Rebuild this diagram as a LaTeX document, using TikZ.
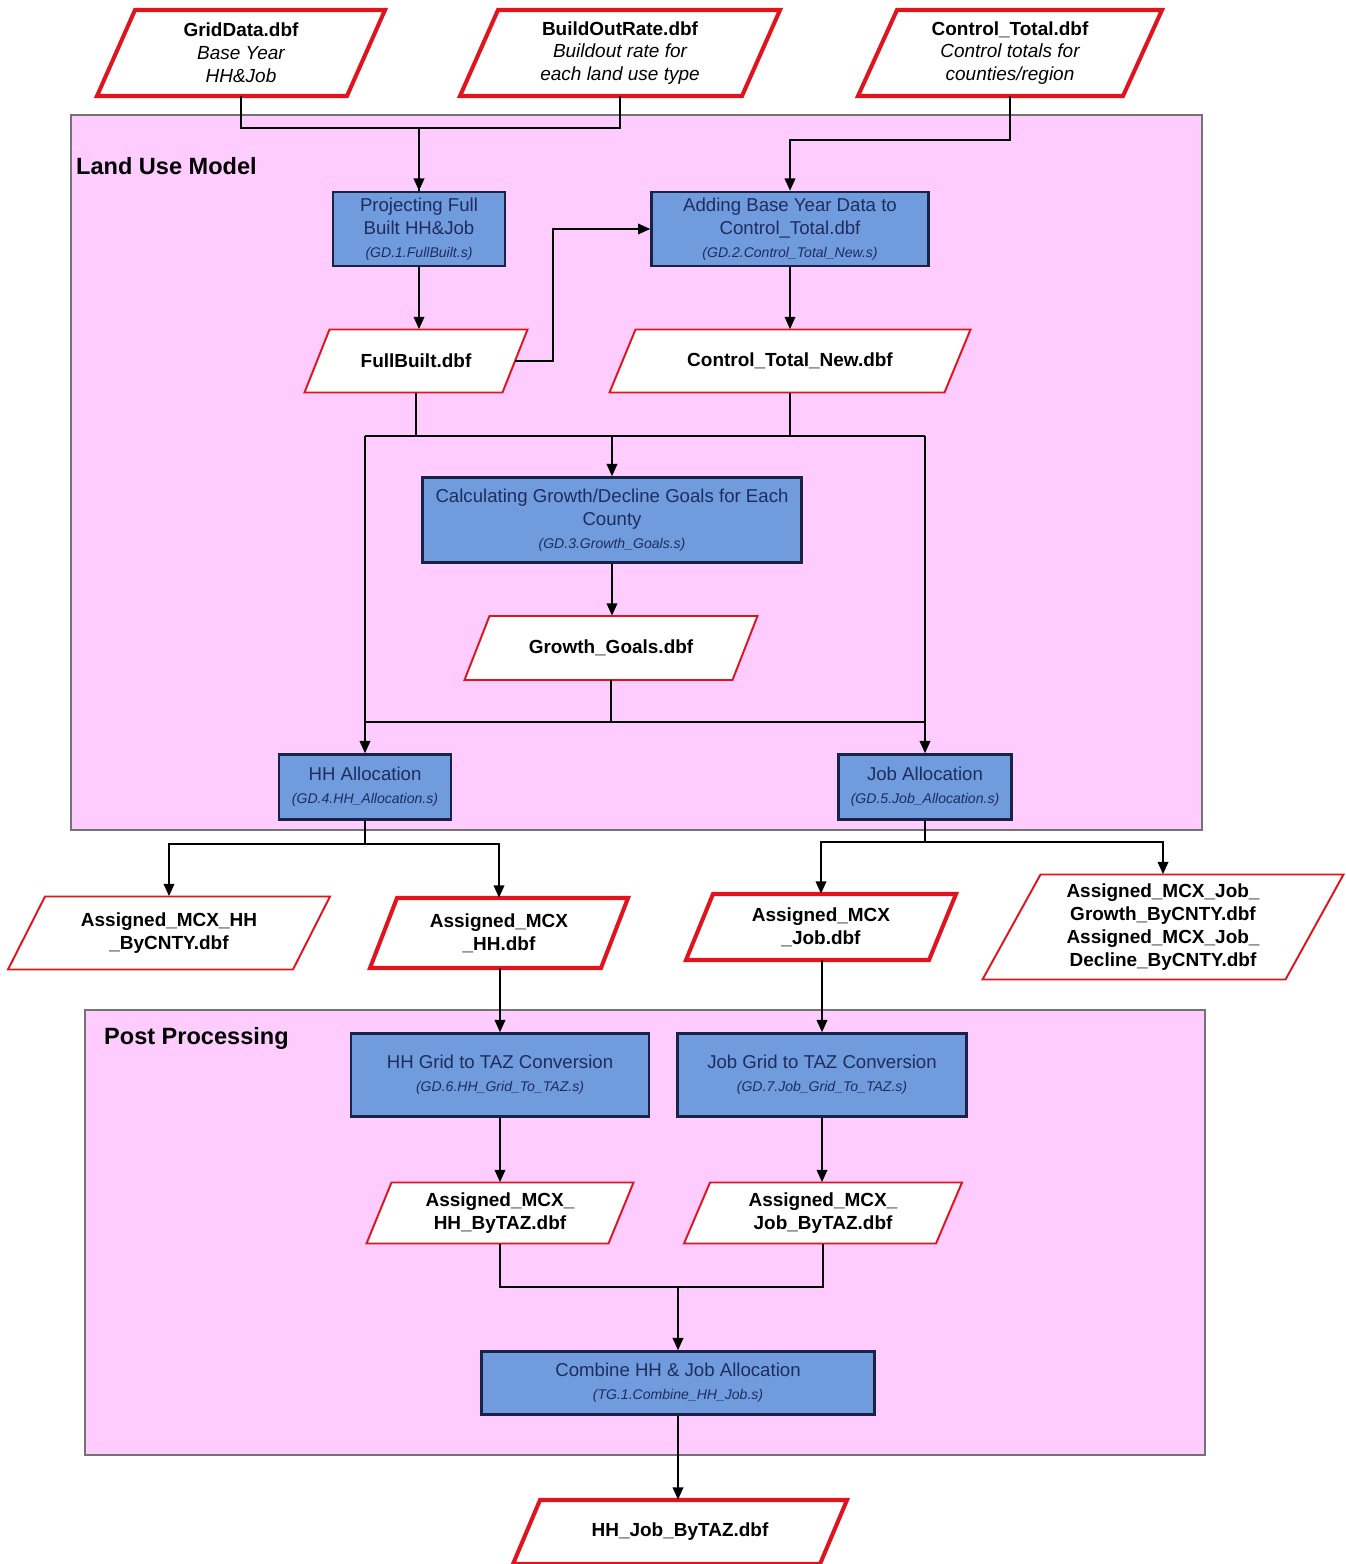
\documentclass[tikz,border=0pt]{standalone}
\usepackage{fontspec}
\setmainfont{Liberation Sans}
\usetikzlibrary{arrows.meta}

\definecolor{regionpink}{RGB}{255,204,255}
\definecolor{procblue}{RGB}{112,155,220}
\definecolor{procline}{RGB}{25,35,70}
\definecolor{proctext}{RGB}{30,45,95}
\definecolor{filered}{RGB}{225,20,30}
\newcommand{\procsub}[1]{{\fontsize{8}{10}\selectfont\itshape #1}}
% data file: [style]{name}{x}{y}{side width}{height}{slant}{text}
\newcommand{\filenode}[8][]{%
	\filldraw[fill=white,draw=filered,line width=1.1pt,#1]
		({#3-#5/2-#7/2},{#4+#6/2}) -- ++(#5,0) -- ++(#7,-#6) -- ++(-#5,0) -- cycle;
	\node[fname,minimum width=#5*0.02cm,minimum height=#6*0.02cm] (#2) at (#3,#4) {#8};}

\begin{document}
\begin{tikzpicture}[x=0.02cm,y=-0.02cm,
	proc/.style={draw=procline,line width=1.4pt,fill=procblue,text=proctext,align=center,
		font=\fontsize{10.6}{13}\selectfont,inner sep=2pt},
	fname/.style={align=center,inner sep=0pt,font=\fontsize{10.8}{13}\selectfont\bfseries},
	keyline/.style={line width=2.3pt},
	arr/.style={-{Triangle[length=7pt,width=6pt]}},
	link/.style={line width=1.1pt}]
	\useasboundingbox (0,0) rectangle (1345,1564);
	% Regions
	\fill[regionpink,draw=gray!90!black,line width=0.9pt] (71,115) rectangle (1202,830);
	\fill[regionpink,draw=gray!90!black,line width=0.9pt] (85,1010) rectangle (1205,1455);
	\node[anchor=west,font=\fontsize{13.4}{15}\selectfont\bfseries] (lum) at (70,166) {Land Use Model};
	\node[anchor=west,font=\fontsize{13.4}{15}\selectfont\bfseries] (pp) at (98,1038) {Post Processing};
	% Input files
	\filenode[keyline]{grid}{241}{53}{250}{86}{38}
		{GridData.dbf\\{\mdseries\itshape Base Year}\\{\mdseries\itshape HH\&Job}}
	\filenode[keyline]{bor}{620}{53}{282}{86}{38}
		{BuildOutRate.dbf\\{\mdseries\itshape Buildout rate for}\\{\mdseries\itshape each land use type}}
	\filenode[keyline]{ctot}{1010}{53}{265}{86}{39}
		{Control\_Total.dbf\\{\mdseries\itshape Control totals for}\\{\mdseries\itshape counties/region}}
	% Land use model
	\node[proc,minimum width=3.44cm,minimum height=1.48cm] (proj) at (419,229)
		{Projecting Full\\Built HH\&Job\\\procsub{(GD.1.FullBuilt.s)}};
	\node[proc,minimum width=5.54cm,minimum height=1.48cm] (addb) at (790,229)
		{Adding Base Year Data to\\Control\_Total.dbf\\\procsub{(GD.2.Control\_Total\_New.s)}};
	\filenode{fbuilt}{416}{361}{198}{63}{25}{FullBuilt.dbf}
	\filenode{ctnew}{790}{361}{335}{63}{26}{Control\_Total\_New.dbf}
	\node[proc,minimum width=7.58cm,minimum height=1.7cm] (calc) at (612,520)
		{Calculating Growth/Decline Goals for Each\\County\\\procsub{(GD.3.Growth\_Goals.s)}};
	\filenode{goals}{611}{648}{268}{64}{25}{Growth\_Goals.dbf}
	\node[proc,minimum width=3.44cm,minimum height=1.3cm] (hhal) at (365,787)
		{HH Allocation\\\procsub{(GD.4.HH\_Allocation.s)}};
	\node[proc,minimum width=3.46cm,minimum height=1.3cm] (jobal) at (925,787)
		{Job Allocation\\\procsub{(GD.5.Job\_Allocation.s)}};
	% Allocation outputs
	\filenode{hhcnty}{169}{933}{285}{73}{37}{Assigned\_MCX\_HH\\\_ByCNTY.dbf}
	\filenode[keyline]{mcxhh}{499}{933}{231}{70}{27}{Assigned\_MCX\\\_HH.dbf}
	\filenode[keyline]{mcxjob}{821}{927}{243}{66}{27}{Assigned\_MCX\\\_Job.dbf}
	\filenode{jobcnty}{1163}{927}{303}{105}{58}
		{Assigned\_MCX\_Job\_\\Growth\_ByCNTY.dbf\\Assigned\_MCX\_Job\_\\Decline\_ByCNTY.dbf}
	% Post processing
	\node[proc,minimum width=5.96cm,minimum height=1.66cm] (hhgrid) at (500,1075)
		{HH Grid to TAZ Conversion\\\procsub{(GD.6.HH\_Grid\_To\_TAZ.s)}};
	\node[proc,minimum width=5.78cm,minimum height=1.66cm] (jobgrid) at (822,1075)
		{Job Grid to TAZ Conversion\\\procsub{(GD.7.Job\_Grid\_To\_TAZ.s)}};
	\filenode{hhtaz}{500}{1213}{242}{61}{25}{Assigned\_MCX\_\\HH\_ByTAZ.dbf}
	\filenode{jobtaz}{823}{1213}{252}{61}{26}{Assigned\_MCX\_\\Job\_ByTAZ.dbf}
	\node[proc,minimum width=7.86cm,minimum height=1.26cm] (comb) at (678,1383)
		{Combine HH \& Job Allocation\\\procsub{(TG.1.Combine\_HH\_Job.s)}};
	\filenode[keyline]{final}{680}{1532}{307}{64}{27}{HH\_Job\_ByTAZ.dbf}
	% Lines
	\draw[link,arr] (grid.south) -- ++(0,32) -| (proj.north);
	\draw[link] (bor.south) -- ++(0,32) -| (proj.north);
	\draw[link,arr] (ctot.south) -- ++(0,44) -| (addb.north);
	\draw[link,arr] (proj.south) -- (proj.south |- fbuilt.north);
	\draw[link,arr] (fbuilt.east) -- ++(38,0) |- (addb.west);
	\draw[link,arr] (addb) -- (ctnew);
	\coordinate (sl) at (365,436);
	\coordinate (sr) at (925,436);
	\draw[link] (fbuilt.south) -- (fbuilt.south |- sl);
	\draw[link] (ctnew.south) -- (ctnew.south |- sl);
	\draw[link] (sl) -- (sr);
	\draw[link,arr] (calc.north |- sl) -- (calc.north);
	\draw[link,arr] (sl) -- (hhal.north);
	\draw[link,arr] (sr) -- (jobal.north);
	\draw[link,arr] (calc.south) -- (calc.south |- goals.north);
	\draw[link] (goals.south) -- ++(0,42) coordinate (gl);
	\draw[link] (gl -| hhal.north) -- (gl -| jobal.north);
	\draw[link] (hhal.south) -- ++(0,23) coordinate (hl);
	\draw[link,arr] (hl) -| (hhcnty.north);
	\draw[link,arr] (hl) -| (mcxhh.north);
	\draw[link] (jobal.south) -- ++(0,21) coordinate (jl);
	\draw[link,arr] (jl) -| (mcxjob.north);
	\draw[link,arr] (jl) -| (jobcnty.north);
	\draw[link,arr] (hhgrid.north |- mcxhh.south) -- (hhgrid.north);
	\draw[link,arr] (jobgrid.north |- mcxjob.south) -- (jobgrid.north);
	\draw[link,arr] (hhgrid.south) -- (hhgrid.south |- hhtaz.north);
	\draw[link,arr] (jobgrid.south) -- (jobgrid.south |- jobtaz.north);
	\coordinate (ml) at (678,1287);
	\draw[link] (hhtaz.south) |- (ml) -| (jobtaz.south);
	\draw[link,arr] (ml) -- (comb.north);
	\draw[link,arr] (comb.south) -- (comb.south |- final.north);
\end{tikzpicture}
\end{document}
